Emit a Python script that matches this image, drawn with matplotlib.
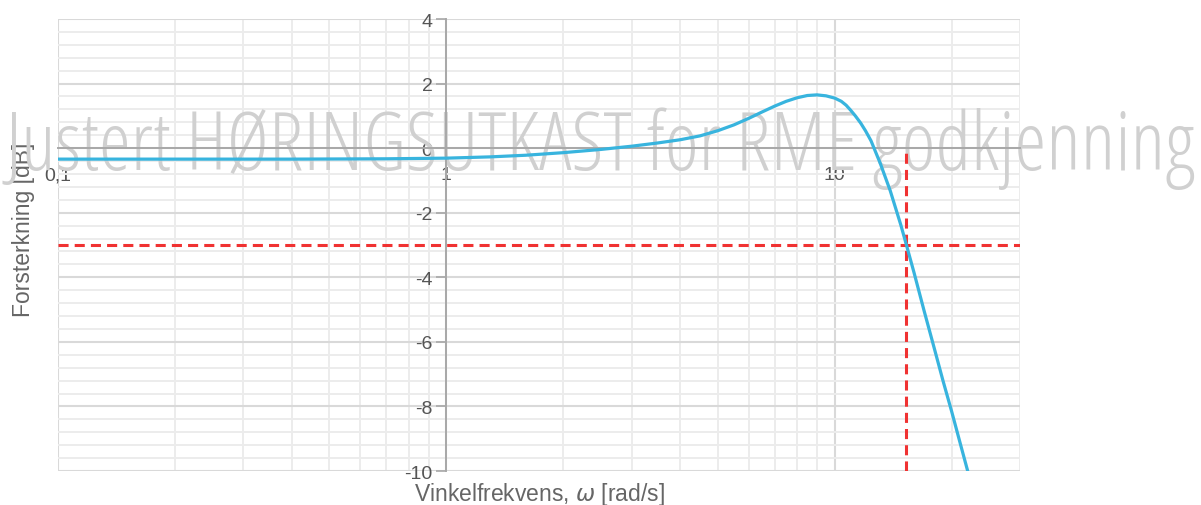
import matplotlib
matplotlib.use("Agg")
import matplotlib.pyplot as plt
from matplotlib.ticker import FixedLocator, MultipleLocator, NullFormatter

# values
omega = [0.1, 0.2, 0.4, 0.7, 1.0, 1.3, 1.6, 2.0, 2.5, 3.0, 3.5, 4.0, 4.5,
         5.0, 5.5, 6.0, 6.5, 7.0, 7.5, 8.0, 8.5, 9.0, 9.5, 10.0, 10.4, 10.7,
         11.0, 11.3, 11.66, 12.0, 12.4, 13.1, 13.9, 14.8, 15.3, 16.0, 17.0,
         18.0, 19.0, 20.0, 21.0, 22.0]
gain_db = [-0.34, -0.34, -0.34, -0.33, -0.31, -0.27, -0.22, -0.14, -0.04,
           0.06, 0.16, 0.26, 0.38, 0.54, 0.72, 0.92, 1.12, 1.30, 1.45, 1.56,
           1.63, 1.65, 1.62, 1.55, 1.45, 1.33, 1.17, 1.00, 0.78, 0.54, 0.23,
           -0.47, -1.32, -2.38, -3.0, -3.85, -5.05, -6.15, -7.2, -8.15,
           -9.1, -10.0]

cutoff_omega = 15.3
cutoff_db = -3

x_ticks = [0.1, 1, 10]
x_ticklabels = ["0,1", "1", "10"]
x_minor = [0.2, 0.3, 0.4, 0.5, 0.6, 0.7, 0.8, 0.9,
           2, 3, 4, 5, 6, 7, 8, 9, 20, 30]
y_ticks = [-10, -8, -6, -4, -2, 0, 2, 4]

watermark = "Justert HØRINGSUTKAST for RME godkjenning"

plt.rcParams["font.family"] = ["Liberation Sans", "DejaVu Sans"]
plt.rcParams["axes.unicode_minus"] = False

fig = plt.figure(figsize=(12.01, 5.06), dpi=100)
ax = fig.add_axes([58 / 1201, 1 - 472 / 506, 962 / 1201, 452 / 506])

ax.set_xscale("log")
ax.set_xlim(0.1, 30)
ax.set_ylim(-10, 4)

ax.xaxis.set_major_locator(FixedLocator(x_ticks))
ax.set_xticklabels(x_ticklabels)
ax.xaxis.set_minor_locator(FixedLocator(x_minor))
ax.xaxis.set_minor_formatter(NullFormatter())
ax.yaxis.set_major_locator(FixedLocator(y_ticks))
ax.yaxis.set_minor_locator(MultipleLocator(0.4))

ax.grid(which="major", color="#d9d9d9", lw=1.5, zorder=0)
ax.grid(which="minor", color="#ececec", lw=1.4, zorder=0)
ax.set_axisbelow(True)

for s in ["top", "right"]:
    ax.spines[s].set_visible(False)
ax.spines["left"].set_position(("data", 1))
ax.spines["bottom"].set_position(("data", 0))
for s in ["left", "bottom"]:
    ax.spines[s].set_color("#a8a8a8")
    ax.spines[s].set_linewidth(1.4)

ax.tick_params(axis="y", which="major", direction="out", length=7,
               color="#a8a8a8", width=1.2, labelsize=14,
               labelcolor="#555555", pad=3)
ax.tick_params(axis="y", which="minor", length=0)
ax.tick_params(axis="x", which="both", length=0, pad=13,
               labelsize=14, labelcolor="#555555")

ax.set_xlabel("Vinkelfrekvens, $\\omega$ [rad/s]", fontsize=16.5, color="#666666")
ax.xaxis.set_label_coords(0.5, -0.02)
ax.set_ylabel("Forsterkning [dB]", fontsize=16.5, color="#666666")
ax.yaxis.set_label_coords(-0.024, 0.535)

# watermark, sits over the grid but under the lines
wm = ax.text(0.5, 1 - 170 / 506, watermark, transform=fig.transFigure,
             ha="center", va="baseline", color="#d0d0d0", fontsize=60,
             family=["Open Sans", "DejaVu Sans"], fontstretch="condensed",
             fontweight=300, zorder=1.5, clip_on=False)
fig.canvas.draw()
w = wm.get_window_extent().width
wm.set_fontsize(60 * 1190 / w)

ax.axhline(cutoff_db, color="#f03232", lw=2.2, ls=(0, (3.3, 2.0)), zorder=2.5)
ax.vlines(cutoff_omega, -10, 0, color="#f03232", lw=2.2,
          linestyles=[(0, (3.3, 2.0))], zorder=2.5)
ax.plot(omega, gain_db, color="#38b4de", lw=2.3, zorder=3)

fig.savefig("out.png", dpi=100)
